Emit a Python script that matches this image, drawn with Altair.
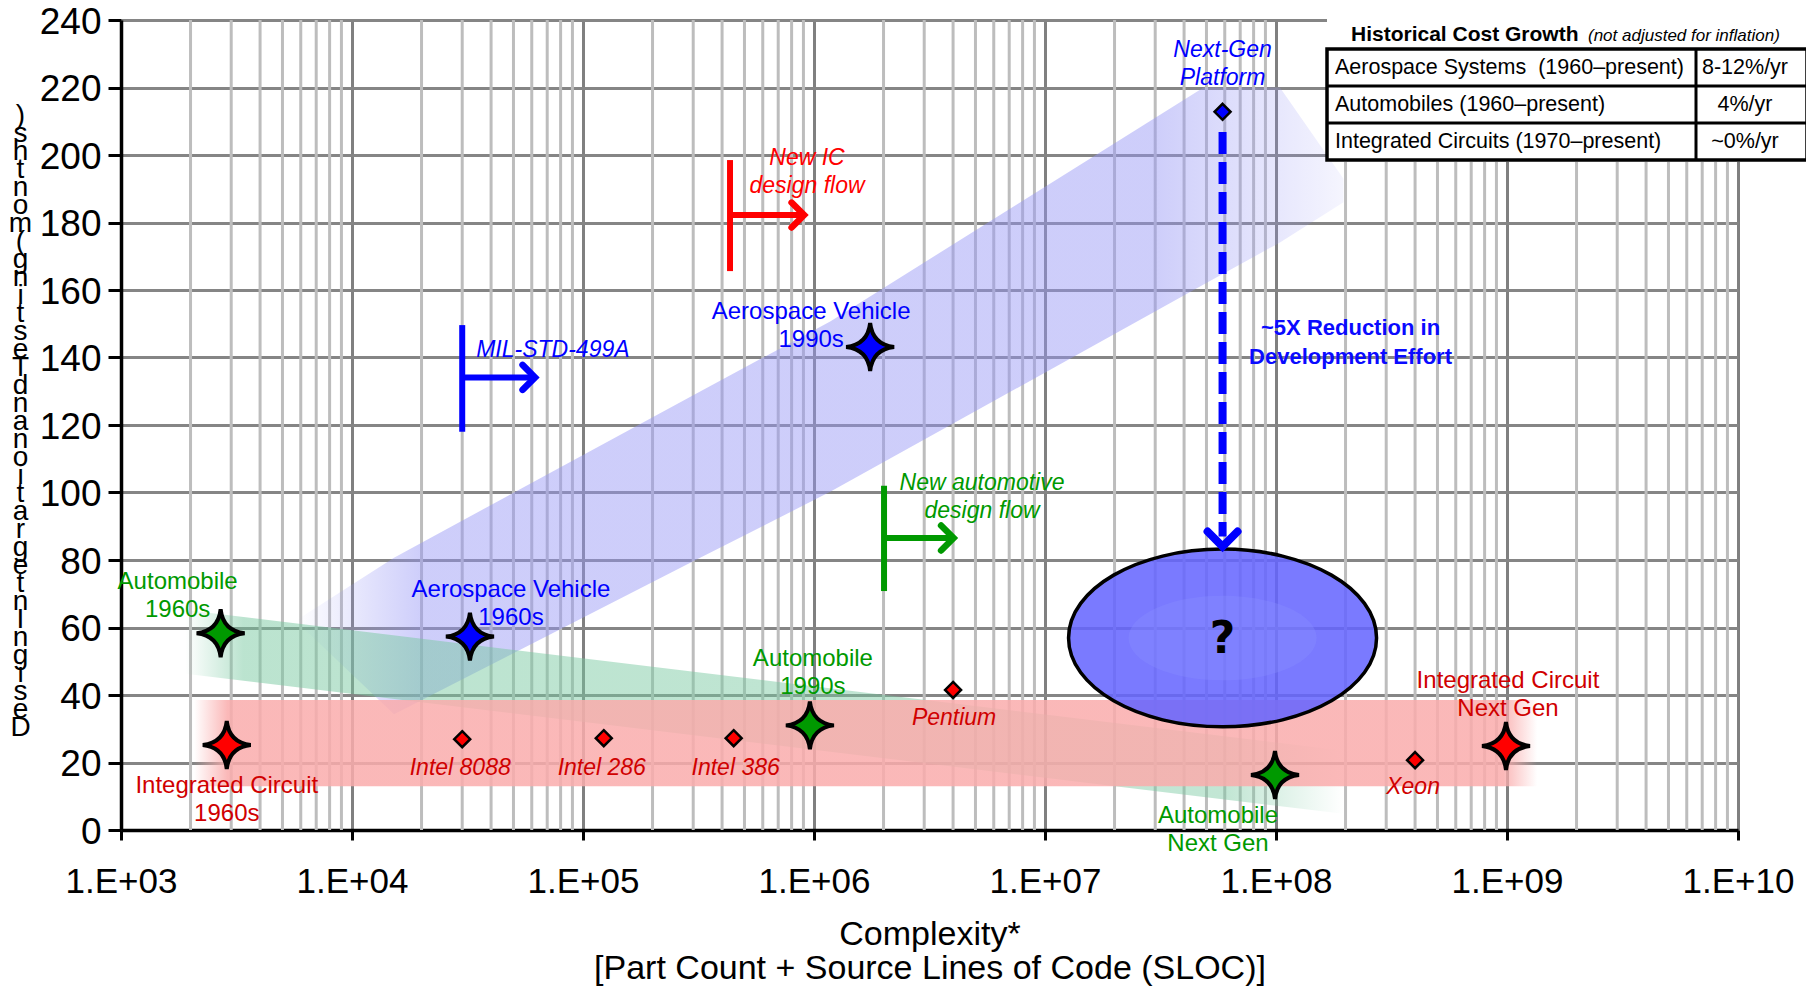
import altair as alt
import pandas as pd

FONT = "Liberation Sans"

# ------------------------------------------------------------------ data
decades = [1e3, 1e4, 1e5, 1e6, 1e7, 1e8, 1e9, 1e10]
minor_multipliers = [2, 3, 4, 5, 6, 7, 8, 9]
y_ticks = [0, 20, 40, 60, 80, 100, 120, 140, 160, 180, 200, 220, 240]

x_title = ["Complexity*", "[Part Count + Source Lines of Code (SLOC)]"]
y_title = "Design Integration and Testing (months)"

star_names = ["Automobile\n1960s", "Aerospace Vehicle\n1960s", "Aerospace Vehicle\n1990s",
              "Automobile\n1990s", "Automobile\nNext Gen", "Integrated Circuit\n1960s",
              "Integrated Circuit\nNext Gen"]
star_family = ["Automobile", "Aerospace", "Aerospace", "Automobile", "Automobile",
               "Integrated Circuit", "Integrated Circuit"]
star_complexity = [2700, 32400, 1.75e6, 9.6e5, 9.9e7, 2870, 9.9e8]
star_months = [58.3, 57.3, 143.1, 31.0, 16.3, 25.2, 24.9]

chip_names = ["Intel 8088", "Intel 286", "Intel 386", "Pentium", "Xeon"]
chip_complexity = [3.0e4, 1.23e5, 4.49e5, 4.0e6, 4.0e8]
chip_months = [26.9, 27.2, 27.2, 41.5, 20.7]

platform_name = "Next-Gen\nPlatform"
platform_complexity = 5.87e7
platform_months = 212.8
target_months = 56.9
reduction_from = 206.8
reduction_to = 84.0
reduction_label = "~5X Reduction in\nDevelopment Effort"

policy_names = ["MIL-STD-499A", "New IC\ndesign flow", "New automotive\ndesign flow"]
policy_family = ["Aerospace", "Integrated Circuit", "Automobile"]
policy_complexity = [3.0e4, 4.33e5, 2.01e6]
policy_top = [149.6, 198.5, 102.0]
policy_bottom = [118.0, 165.6, 70.8]
policy_arrow_months = [134.1, 182.2, 86.5]
policy_arrow_end = [6.2e4, 9.06e5, 4.02e6]

aero_band_x = [5700, 15200, 3.0e5, 1.175e6, 4.86e7, 1.04e8, 1.96e8]
aero_band_top = [62.0, 80.7, 128.8, 150.7, 220.0, 220.0, 193.0]
aero_band_bottom = [62.0, 34.3, 79.6, 100.2, 161.6, 174.1, 186.0]
auto_band_x = [1900, 1.96e8]
auto_band_top = [65.2, 23.5]
auto_band_bottom = [46.3, 4.8]
ic_band_x = [2070, 1.35e9]
ic_band_top = [38.5, 38.5]
ic_band_bottom = [13.0, 13.0]

table_title = "Historical Cost Growth"
table_note = "(not adjusted for inflation)"
table_rows = ["Aerospace Systems \u00a0(1960\u2013present)", "Automobiles (1960\u2013present)",
              "Integrated Circuits (1970\u2013present)"]
table_rates = ["8-12%/yr", "4%/yr", "~0%/yr"]

# ------------------------------------------------------------------ styles
W, H = 1617, 810
family_fill = {"Aerospace": "#0000ff", "Automobile": "#009900", "Integrated Circuit": "#ff0000"}
family_text = {"Aerospace": "#0000ff", "Automobile": "#009900", "Integrated Circuit": "#d00000"}
policy_color = {"Aerospace": "#0000ff", "Automobile": "#009900", "Integrated Circuit": "#ff0000"}

star_label_offsets = [(-43, -37), (41, -33), (-59, -21), (3, -52), (-57, 55), (0, 55), (2, -51)]
chip_label_offsets = [(-2, 29), (-2, 30), (2, 30), (1, 28), (-2, 27)]
policy_label_offsets = [(14, -27, "left"), (77, -43, "center"), (98, -41, "center")]

STAR = "M 0 -1 Q 0.1 -0.1 1 0 Q 0.1 0.1 0 1 Q -0.1 0.1 -1 0 Q -0.1 -0.1 0 -1 Z"
DIAMOND = "M 0 -1 L 1 0 L 0 1 L -1 0 Z"
CHEV_RIGHT = "M -1 -1 L 0 0 L -1 1"
CHEV_DOWN = "M -1 -1 L 0 0 L 1 -1"


def ellipse_path(ry):
    k = 0.5523 * ry
    return (f"M -1 0 C -1 {-k:.4f} -0.5523 {-ry} 0 {-ry} C 0.5523 {-ry} 1 {-k:.4f} 1 0 "
            f"C 1 {k:.4f} 0.5523 {ry} 0 {ry} C -0.5523 {ry} -1 {k:.4f} -1 0 Z")


XS = alt.Scale(type="log", domain=[decades[0], decades[-1]], nice=False)
YS = alt.Scale(domain=[y_ticks[0], y_ticks[-1]], nice=False, zero=False)

DEC = "(log(datum.value)/LN10)"
x_axis = alt.Axis(
    values=decades,
    labelExpr=f"'1.E+' + (round({DEC}) < 10 ? '0' : '') + round({DEC})",
    labelOverlap=False, labelFlush=False, labelBound=False,
    labelFont=FONT, labelFontSize=35, labelColor="black", labelPadding=24,
    grid=True, gridColor="#808080", gridWidth=3, gridOpacity=1,
    ticks=True, tickColor="black", tickSize=10, tickWidth=3,
    domainColor="black", domainWidth=3.5,
    title=x_title, titleFont=FONT, titleFontSize=34, titleFontWeight="normal",
    titleColor="black", titleLineHeight=34, titleBaseline="top", titleY=87,
)
y_axis = alt.Axis(
    values=y_ticks, labelFlush=False, labelOverlap=False, labelOffset=2,
    labelFont=FONT, labelFontSize=37, labelColor="black", labelPadding=7,
    grid=True, gridColor="#858585", gridWidth=3, gridOpacity=1,
    ticks=True, tickColor="black", tickSize=13, tickWidth=3,
    domainColor="black", domainWidth=3.5,
    title=[c for c in reversed(y_title) if c != " "],
    titleFont=FONT, titleFontSize=28, titleFontWeight="normal", titleColor="black",
    titleAngle=0, titleAlign="center", titleBaseline="middle",
    titleLineHeight=18, titleX=-101, titleY=95,
)


def X(field="cx"):
    return alt.X(f"{field}:Q", scale=XS, axis=x_axis)


def Y(field="my"):
    return alt.Y(f"{field}:Q", scale=YS, axis=y_axis)


def fade(rgb, a, stops):
    return alt.LinearGradient(
        gradient="linear", x1=0, x2=1, y1=0, y2=0,
        stops=[alt.GradientStop(color=f"rgba({rgb},{a * s:.3f})", offset=o) for o, s in stops])


layers = []

# ---- minor vertical grid lines (2..9 within each decade)
minor_df = pd.DataFrame({"cx": [d * m for d in decades[:-1] for m in minor_multipliers]})
layers.append(alt.Chart(minor_df).mark_rule(color="#bdbdbd", strokeWidth=3).encode(x=X()))

# ---- bands
aero_df = pd.DataFrame({"cx": aero_band_x, "top": aero_band_top, "bot": aero_band_bottom})
layers.append(alt.Chart(aero_df).mark_area(
    color=fade("150,150,245", 0.47, [(0, 0), (0.12, 1), (0.82, 1), (1, 0.2)]), opacity=1
).encode(x=X(), y=Y("top"), y2="bot:Q"))

auto_df = pd.DataFrame({"cx": auto_band_x, "top": auto_band_top, "bot": auto_band_bottom})
layers.append(alt.Chart(auto_df).mark_area(
    color=fade("120,200,160", 0.5, [(0, 0), (0.05, 1), (0.9, 0.9), (1, 0)]), opacity=1
).encode(x=X(), y=Y("top"), y2="bot:Q"))

ic_df = pd.DataFrame({"cx": ic_band_x, "top": ic_band_top, "bot": ic_band_bottom})
layers.append(alt.Chart(ic_df).mark_area(
    color=fade("250,172,172", 0.85, [(0, 0), (0.025, 1), (0.975, 1), (1, 0)]), opacity=1
).encode(x=X(), y=Y("top"), y2="bot:Q"))

# ---- goal ellipse
goal_df = pd.DataFrame({"cx": [platform_complexity], "my": [target_months], "t": ["?"]})
layers.append(alt.Chart(goal_df).mark_point(
    shape=ellipse_path(0.577), size=308 ** 2, filled=True, color="#6464ff",
    fillOpacity=0.86, opacity=1, stroke="black", strokeWidth=3.5, strokeOpacity=1
).encode(x=X(), y=Y()))
layers.append(alt.Chart(goal_df).mark_point(
    shape=ellipse_path(0.45), size=188 ** 2, filled=True, color="#8a90ff",
    fillOpacity=0.35, opacity=1, strokeWidth=0
).encode(x=X(), y=Y()))
layers.append(alt.Chart(goal_df).mark_text(
    font="DejaVu Sans", fontWeight="bold", fontSize=44, color="black", dy=2
).encode(x=X(), y=Y(), text="t:N"))

# ---- reduction arrow
red_df = pd.DataFrame({"cx": [platform_complexity], "y1": [reduction_from], "y2": [reduction_to + 3]})
layers.append(alt.Chart(red_df).mark_rule(
    color="#0000ff", strokeWidth=8, strokeDash=[22, 8]
).encode(x=X(), y=Y("y1"), y2="y2:Q"))
tip_df = pd.DataFrame({"cx": [platform_complexity], "my": [reduction_to]})
layers.append(alt.Chart(tip_df).mark_point(
    shape=CHEV_DOWN, size=30 ** 2, filled=False, color="#0000ff", strokeWidth=8,
    opacity=1, strokeCap="round", strokeJoin="miter"
).encode(x=X(), y=Y()))

# ---- policy markers
pol_df = pd.DataFrame({
    "cx": policy_complexity, "top": policy_top, "bot": policy_bottom,
    "my": policy_arrow_months, "end": policy_arrow_end,
    "col": [policy_color[f] for f in policy_family]})
layers.append(alt.Chart(pol_df).mark_rule(strokeWidth=6).encode(
    x=X(), y=Y("top"), y2="bot:Q", color=alt.Color("col:N", scale=None)))
layers.append(alt.Chart(pol_df).mark_rule(strokeWidth=6).encode(
    x=X(), x2="end:Q", y=Y(), color=alt.Color("col:N", scale=None)))
layers.append(alt.Chart(pol_df).mark_point(
    shape=CHEV_RIGHT, size=25 ** 2, filled=False, strokeWidth=6.5, opacity=1,
    strokeCap="round", strokeJoin="miter"
).encode(x=X("end"), y=Y(), color=alt.Color("col:N", scale=None)))

# ---- chips and platform diamonds
chip_df = pd.DataFrame({"cx": chip_complexity, "my": chip_months})
layers.append(alt.Chart(chip_df).mark_point(
    shape=DIAMOND, size=16 ** 2, filled=True, color="#ff0000", opacity=1,
    stroke="black", strokeWidth=2.5
).encode(x=X(), y=Y()))
plat_df = pd.DataFrame({"cx": [platform_complexity], "my": [platform_months]})
layers.append(alt.Chart(plat_df).mark_point(
    shape=DIAMOND, size=16 ** 2, filled=True, color="#0000ff", opacity=1,
    stroke="black", strokeWidth=2.5
).encode(x=X(), y=Y()))

# ---- milestone stars
star_df = pd.DataFrame({"cx": star_complexity, "my": star_months, "fam": star_family})
layers.append(alt.Chart(star_df).mark_point(
    shape=STAR, size=48 ** 2, filled=True, opacity=1, stroke="black", strokeWidth=4
).encode(x=X(), y=Y(), color=alt.Color(
    "fam:N", legend=None,
    scale=alt.Scale(domain=list(family_fill), range=list(family_fill.values())))))


# ---- labels (dy is the offset of the centre of the text block)
def label(x, y, text, color, dx, dy, italic=False, bold=False, size=24, align="center", lh=28):
    n = text.count("\n") + 1
    df = pd.DataFrame({"cx": [x], "my": [y], "t": [text]})
    return alt.Chart(df).mark_text(
        dx=dx, dy=dy - (n - 1) * lh / 2, align=align, baseline="middle", font=FONT,
        fontSize=size, fontStyle="italic" if italic else "normal",
        fontWeight="bold" if bold else "normal",
        color=color, lineBreak="\n", lineHeight=lh
    ).encode(x=X(), y=Y(), text="t:N")


for i, name in enumerate(star_names):
    dx, dy = star_label_offsets[i]
    layers.append(label(star_complexity[i], star_months[i], name,
                        family_text[star_family[i]], dx, dy))
for i, name in enumerate(chip_names):
    dx, dy = chip_label_offsets[i]
    layers.append(label(chip_complexity[i], chip_months[i], name, "#d00000", dx, dy,
                        italic=True, size=23))
layers.append(label(platform_complexity, platform_months, platform_name, "#0000ff", 0, -48,
                    italic=True, size=23))
for i, name in enumerate(policy_names):
    dx, dy, al = policy_label_offsets[i]
    layers.append(label(policy_complexity[i], policy_arrow_months[i], name,
                        policy_color[policy_family[i]], dx, dy, italic=True, size=23, align=al))
layers.append(label(platform_complexity, platform_months, reduction_label, "#0a0aff", 128, 231,
                    bold=True, size=22, lh=29))

# ---- cost growth table (pixel layout, top-right corner)
T_LEFT, T_RIGHT, T_MID, T_TOP, T_ROW = 1206, 1686, 1575, 29, 37
T_BOTTOM = T_TOP + T_ROW * len(table_rows)
one = pd.DataFrame({"k": [0]})
layers.append(alt.Chart(one).mark_rect(color="white", opacity=1).encode(
    x=alt.value(T_LEFT), x2=alt.value(T_RIGHT + 4), y=alt.value(-8), y2=alt.value(T_BOTTOM + 2)))
layers.append(alt.Chart(one).mark_rect(fillOpacity=0, stroke="black", strokeWidth=3.5).encode(
    x=alt.value(T_LEFT), x2=alt.value(T_RIGHT), y=alt.value(T_TOP), y2=alt.value(T_BOTTOM)))
for i in range(1, len(table_rows)):
    layers.append(alt.Chart(one).mark_rule(color="black", strokeWidth=3).encode(
        x=alt.value(T_LEFT), x2=alt.value(T_RIGHT), y=alt.value(T_TOP + i * T_ROW)))
layers.append(alt.Chart(one).mark_rule(color="black", strokeWidth=3).encode(
    x=alt.value(T_MID), y=alt.value(T_TOP), y2=alt.value(T_BOTTOM)))
layers.append(alt.Chart(one).mark_text(
    align="left", baseline="middle", font=FONT, fontSize=21, fontWeight="bold", color="black"
).encode(x=alt.value(1230), y=alt.value(15), text=alt.value(table_title)))
layers.append(alt.Chart(one).mark_text(
    align="left", baseline="middle", font=FONT, fontSize=17, fontStyle="italic", color="black"
).encode(x=alt.value(1467), y=alt.value(16), text=alt.value(table_note)))
for i, (row, rate) in enumerate(zip(table_rows, table_rates)):
    yc = T_TOP + T_ROW * (i + 0.5)
    layers.append(alt.Chart(one).mark_text(
        align="left", baseline="middle", font=FONT, fontSize=21.5, color="black"
    ).encode(x=alt.value(T_LEFT + 8), y=alt.value(yc), text=alt.value(row)))
    layers.append(alt.Chart(one).mark_text(
        align="center", baseline="middle", font=FONT, fontSize=21.5, color="black"
    ).encode(x=alt.value(1624), y=alt.value(yc), text=alt.value(rate)))

chart = alt.layer(*layers).properties(
    width=W, height=H, background="white",
    padding={"left": 113, "top": 12, "right": 68, "bottom": 156},
    autosize=alt.AutoSizeParams(type="none"),
).configure_view(strokeWidth=0)

chart.save("out.html", embed_options={"renderer": "svg", "actions": False})
